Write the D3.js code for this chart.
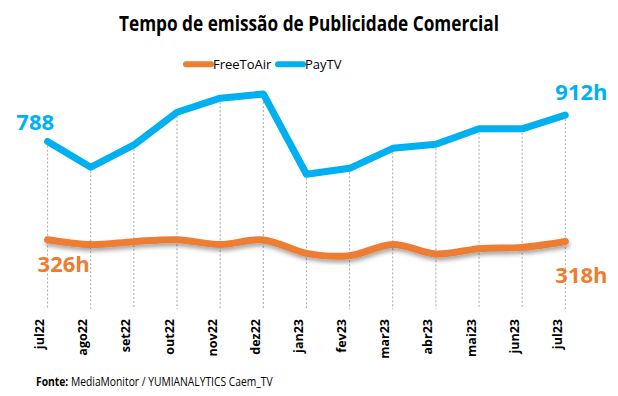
<!DOCTYPE html>
<html>
<head>
<meta charset="utf-8">
<script src="https://cdn.jsdelivr.net/npm/d3@7"></script>
<style>
  body { margin: 0; background: #fff; }
  svg { display: block; font-family: "Open Sans", "Noto Sans", sans-serif; }
</style>
</head>
<body>
<svg id="chart"></svg>
<script>
// data
const months = ['jul22', 'ago22', 'set22', 'out22', 'nov22', 'dez22', 'jan23',
  'fev23', 'mar23', 'abr23', 'mai23', 'jun23', 'jul23'];
const freeToAir = [326, 303, 317, 326, 303, 325, 262, 251, 304, 259, 284, 290, 318];
const payTV = [788, 667, 772, 926, 992, 1012, 634, 662, 756, 775, 848, 848, 912];
const seriesNames = ['FreeToAir', 'PayTV'];
const seriesColors = ['#ED7D31', '#00B0F0'];

const width = 618, height = 396;

const svg = d3.select('#chart')
  .attr('width', width)
  .attr('height', height)
  .attr('viewBox', `0 0 ${width} ${height}`);

// soft shadow under the orange line
const defs = svg.append('defs');
defs.append('filter')
  .attr('id', 'shadow')
  .attr('x', '-5%').attr('y', '-50%').attr('width', '110%').attr('height', '200%')
  .append('feDropShadow')
    .attr('dx', 1).attr('dy', 3)
    .attr('stdDeviation', 2)
    .attr('flood-color', '#000')
    .attr('flood-opacity', 0.35);

const x = d3.scalePoint().domain(months).range([47.6, 565.3]);
const y = d3.scaleLinear().domain([0, 1000]).range([309, 96.5]);

// title
svg.append('text')
  .attr('x', width / 2)
  .attr('y', 31)
  .attr('text-anchor', 'middle')
  .attr('font-size', 22)
  .attr('font-weight', 700)
  .attr('textLength', 380)
  .attr('lengthAdjust', 'spacingAndGlyphs')
  .text('Tempo de emissão de Publicidade Comercial');

// legend
const legend = svg.append('g').attr('transform', 'translate(0,64.3)');
const legendX = [184, 276];
seriesNames.forEach((name, i) => {
  const g = legend.append('g').attr('transform', `translate(${legendX[i]},0)`);
  g.append('line')
    .attr('x1', 2).attr('x2', 27)
    .attr('stroke', seriesColors[i])
    .attr('stroke-width', 6)
    .attr('stroke-linecap', 'round');
  g.append('text')
    .attr('x', 29)
    .attr('y', 4.5)
    .attr('font-size', 13)
    .attr('fill', '#000')
    .text(name);
});

// drop lines
svg.append('g')
  .selectAll('line')
  .data(months)
  .join('line')
    .attr('x1', d => x(d)).attr('x2', d => x(d))
    .attr('y1', (d, i) => y(Math.max(freeToAir[i], payTV[i])))
    .attr('y2', y(0))
    .attr('stroke', '#A6A6A6')
    .attr('stroke-width', 1)
    .attr('stroke-dasharray', '2,2');

// x labels
svg.append('g')
  .selectAll('text')
  .data(months)
  .join('text')
    .attr('transform', d => `translate(${x(d) - 3.5},319) rotate(-90)`)
    .attr('text-anchor', 'end')
    .attr('font-size', 12.5)
    .attr('font-weight', 700)
    .attr('fill', '#000')
    .text(d => d);

// lines
const lineStraight = d3.line()
  .x((d, i) => x(months[i]))
  .y(d => y(d));
const lineSmooth = d3.line()
  .x((d, i) => x(months[i]))
  .y(d => y(d))
  .curve(d3.curveCatmullRom.alpha(0.5));

svg.append('path')
  .attr('d', lineSmooth(freeToAir))
  .attr('fill', 'none')
  .attr('stroke', seriesColors[0])
  .attr('stroke-width', 7)
  .attr('stroke-linecap', 'round')
  .attr('filter', 'url(#shadow)');

svg.append('path')
  .attr('d', lineStraight(payTV))
  .attr('fill', 'none')
  .attr('stroke', seriesColors[1])
  .attr('stroke-width', 7)
  .attr('stroke-linecap', 'round')
  .attr('stroke-linejoin', 'round');

// value labels at the ends
const first = months[0], last = months[months.length - 1];
const valueLabels = [
  { text: '788', x: x(first) + 6.5, y: y(payTV[0]) - 12, anchor: 'end', color: seriesColors[1] },
  { text: '912h', x: x(last) - 10, y: y(payTV[payTV.length - 1]) - 15, anchor: 'start', color: seriesColors[1] },
  { text: '326h', x: x(first) - 10, y: y(freeToAir[0]) + 32.5, anchor: 'start', color: seriesColors[0] },
  { text: '318h', x: x(last) - 10, y: y(freeToAir[freeToAir.length - 1]) + 41.5, anchor: 'start', color: seriesColors[0] }
];
svg.append('g')
  .selectAll('text')
  .data(valueLabels)
  .join('text')
    .attr('x', d => d.x)
    .attr('y', d => d.y)
    .attr('text-anchor', d => d.anchor)
    .attr('font-size', 22)
    .attr('font-weight', 700)
    .attr('fill', d => d.color)
    .text(d => d.text);

// source, squeezed horizontally to the reference width
const srcG = svg.append('g');
const src = srcG.append('text')
  .attr('font-size', 12.5)
  .attr('fill', '#000');
src.append('tspan').attr('font-weight', 700).text('Fonte:');
src.append('tspan').text(' MediaMonitor / YUMIANALYTICS Caem_TV');
const srcW = src.node().getComputedTextLength();
srcG.attr('transform', `translate(36,386) scale(${237 / srcW},1)`);
</script>
</body>
</html>
